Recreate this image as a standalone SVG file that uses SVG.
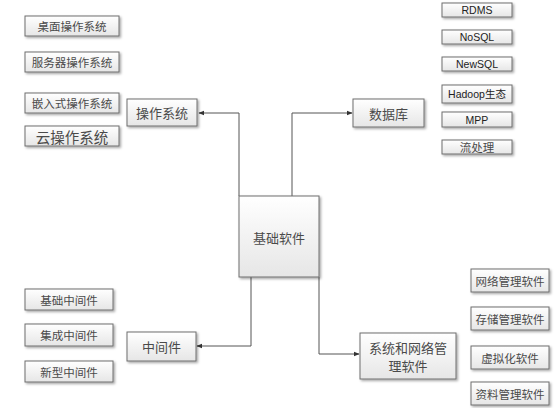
<svg xmlns="http://www.w3.org/2000/svg" width="556" height="408" viewBox="0 0 556 408">
<defs>
<linearGradient id="g" x1="0" y1="0" x2="0" y2="1">
<stop offset="0" stop-color="#ffffff"/>
<stop offset="1" stop-color="#e6e6e6"/>
</linearGradient>
<marker id="ah" viewBox="0 0 10 10" refX="9" refY="5" markerWidth="6" markerHeight="6" orient="auto">
<path d="M0,1 L10,5 L0,9 Z" fill="#333"/>
</marker>
<filter id="sh" x="-10%" y="-10%" width="130%" height="140%">
<feDropShadow dx="1.5" dy="1.5" stdDeviation="0.8" flood-color="#000" flood-opacity="0.35"/>
</filter>
</defs>
<style>
rect.b{fill:url(#g);stroke:#6e6e6e;stroke-width:1;filter:url(#sh)}
text{font-family:"Noto Sans CJK SC","Liberation Sans",sans-serif;fill:#4a4a4a;text-anchor:middle;dominant-baseline:central}
.s{font-size:11.5px}
.m{font-size:13px}
.l{font-size:14.5px}
.e{font-family:"Liberation Sans","Noto Sans CJK SC",sans-serif;font-size:10.5px;fill:#222}
.c{fill:none;stroke:#555;stroke-width:1;marker-end:url(#ah)}
</style>
<rect width="556" height="408" fill="#ffffff"/>

<g id="connectors">
<path class="c" d="M239,196 V113 H199"/>
<path class="c" d="M292,196 V113 H352"/>
<path class="c" d="M251,277 V346 H197"/>
<path class="c" d="M319,277 V354 H359"/>
</g>

<g id="n-base"><rect class="b" x="239" y="196" width="80" height="81"/><text class="m" x="279" y="237">基础软件</text></g>

<g id="n-os"><rect class="b" x="127" y="99" width="70" height="27"/><text class="m" x="162" y="112.5">操作系统</text></g>
<g id="n-os1"><rect class="b" x="25" y="16" width="94" height="20"/><text class="s" x="72" y="26">桌面操作系统</text></g>
<g id="n-os2"><rect class="b" x="25" y="52" width="94" height="20"/><text class="s" x="72" y="62">服务器操作系统</text></g>
<g id="n-os3"><rect class="b" x="25" y="93" width="94" height="20"/><text class="s" x="72" y="103">嵌入式操作系统</text></g>
<g id="n-os4"><rect class="b" x="25" y="126" width="94" height="20"/><text class="l" x="72" y="136">云操作系统</text></g>

<g id="n-db"><rect class="b" x="353" y="99" width="71" height="28"/><text class="m" x="388.5" y="113">数据库</text></g>
<g id="n-db1"><rect class="b" x="442" y="3" width="70" height="14"/><text class="e" x="477" y="10">RDMS</text></g>
<g id="n-db2"><rect class="b" x="442" y="30" width="70" height="14"/><text class="e" x="477" y="37">NoSQL</text></g>
<g id="n-db3"><rect class="b" x="442" y="57" width="70" height="14"/><text class="e" x="477" y="64">NewSQL</text></g>
<g id="n-db4"><rect class="b" x="442" y="85" width="70" height="18"/><text class="e" x="477" y="94">Hadoop生态</text></g>
<g id="n-db5"><rect class="b" x="442" y="112" width="70" height="15"/><text class="e" x="477" y="119.5">MPP</text></g>
<g id="n-db6"><rect class="b" x="442" y="140" width="70" height="14"/><text class="s" x="477" y="147">流处理</text></g>

<g id="n-mw"><rect class="b" x="127" y="332" width="69" height="29"/><text class="m" x="161.5" y="346.5">中间件</text></g>
<g id="n-mw1"><rect class="b" x="25" y="289" width="88" height="21"/><text class="s" x="69" y="299.5">基础中间件</text></g>
<g id="n-mw2"><rect class="b" x="25" y="324" width="88" height="22"/><text class="s" x="69" y="335">集成中间件</text></g>
<g id="n-mw3"><rect class="b" x="25" y="361" width="88" height="21"/><text class="s" x="69" y="371.5">新型中间件</text></g>

<g id="n-nm"><rect class="b" x="360" y="333" width="96" height="46"/><text class="m" x="408" y="347">系统和网络管</text><text class="m" x="408" y="365">理软件</text></g>
<g id="n-nm1"><rect class="b" x="471" y="269" width="78" height="23"/><text class="s" x="510" y="280.5">网络管理软件</text></g>
<g id="n-nm2"><rect class="b" x="471" y="307" width="78" height="23"/><text class="s" x="510" y="318.5">存储管理软件</text></g>
<g id="n-nm3"><rect class="b" x="471" y="346" width="78" height="23"/><text class="s" x="510" y="357.5">虚拟化软件</text></g>
<g id="n-nm4"><rect class="b" x="471" y="382" width="78" height="23"/><text class="s" x="510" y="393.5">资料管理软件</text></g>
</svg>
